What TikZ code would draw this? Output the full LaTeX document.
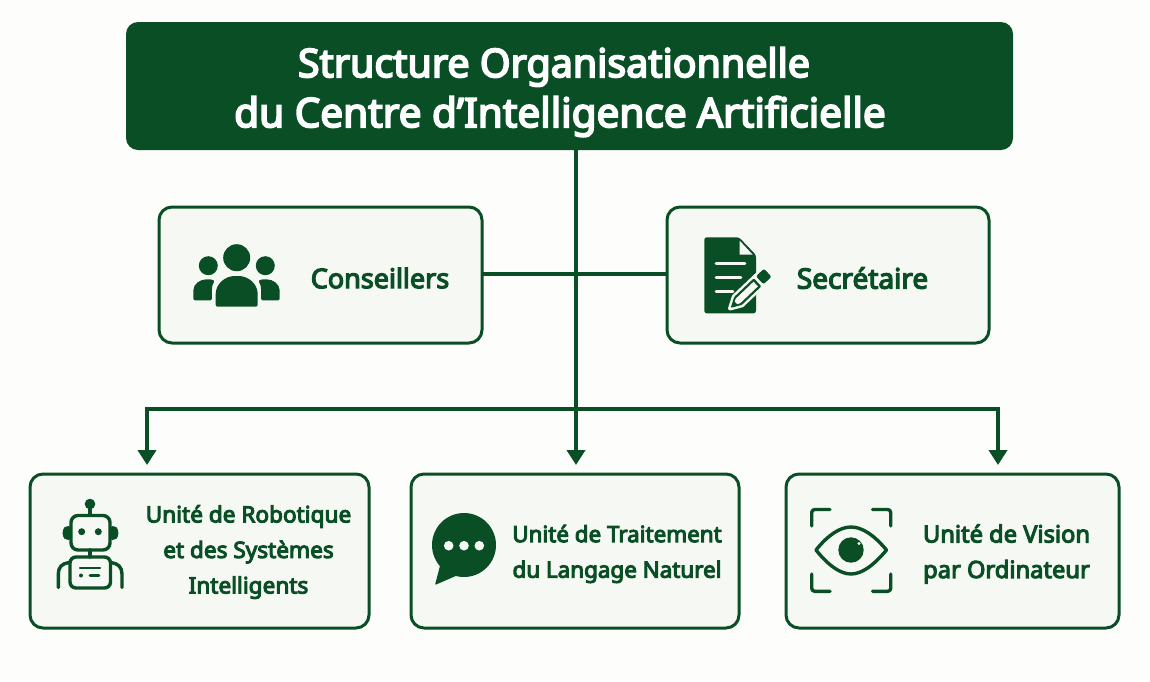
\documentclass[tikz,border=0pt]{standalone}
\usepackage{fontspec}
\setmainfont{Noto Sans}[BoldFont={Noto Sans},BoldFeatures={FakeBold=4.5}]
\usetikzlibrary{arrows.meta}
\definecolor{dkgreen}{HTML}{0A4E25}
\definecolor{pagebg}{HTML}{FDFDFB}
\definecolor{boxbg}{HTML}{F5F8F3}
\tikzset{
  cardbox/.style={draw=dkgreen,line width=3pt,fill=boxbg,rounded corners=13pt,minimum height=#1,inner sep=0pt,outer sep=0pt},
  titlebox/.style={fill=dkgreen,rounded corners=12pt,minimum width=887pt,minimum height=128pt,inner sep=0pt,outer sep=0pt},
  titletext/.style={text=white,font=\fontsize{40}{50}\selectfont\bfseries,align=center,inner sep=0pt},
  cardtext/.style={text=dkgreen,font=\fontsize{#1}{35.5}\selectfont\bfseries,align=center,inner sep=0pt},
  link/.style={draw=dkgreen,line width=4pt},
  linkarrow/.style={link,-{Triangle[length=15pt,width=18pt]},shorten >=9pt},
  iconline/.style={draw=dkgreen,line width=3.4pt,line cap=round,line join=round},
  iconfill/.style={fill=dkgreen,draw=none},
}
\begin{document}
\begin{tikzpicture}[x=1pt,y=-1pt]
\useasboundingbox[fill=pagebg] (0,0) rectangle (1150,681);
% boxes
\node[titlebox] (title) at (569.5,86) {};
\node[cardbox=136pt,minimum width=323pt] (cons) at (320.5,275) {};
\node[cardbox=136pt,minimum width=322pt] (secr) at (828,275) {};
\node[cardbox=154pt,minimum width=339pt] (robo) at (199.5,551) {};
\node[cardbox=154pt,minimum width=328pt] (nlp) at (575,551) {};
\node[cardbox=154pt,minimum width=333pt] (visi) at (952.5,551) {};
% junctions
\coordinate (busm) at (576,409);
\coordinate (busl) at (147,409);
\coordinate (busr) at (998,409);
\coordinate (midr) at (576,274);
% connectors
\draw[link] (title.south -| busm) -- (busm);
\draw[link] (cons.east |- midr) -- (secr.west |- midr);
\draw[link,line cap=rect] (busl) -- (busr);
\draw[linkarrow] (busm) -- (busm |- nlp.north);
\draw[linkarrow] (busl) -- (busl |- robo.north);
\draw[linkarrow] (busr) -- (busr |- visi.north);
% texts
\node[titletext] (ttl) at (560,92) {\hspace*{-12pt}{\fontsize{39.4}{50}\selectfont Structure Organisationnelle}\\{\fontsize{40.5}{50}\selectfont du Centre d’Intelligence Artificielle}};
\node[cardtext=27] (tcons) at (380,278) {Conseillers};
\node[cardtext=28] (tsecr) at (862.5,278) {Secrétaire};
\node[cardtext=22.6] (trobo) at (248.5,552) {Unité de Robotique\\et des Systèmes\\Intelligents};
\node[cardtext=22.4] (tnlp) at (617,554) {Unité de Traitement\\du Langage Naturel};
\node[cardtext=23.7] (tvisi) at (1006.5,554) {Unité de Vision\\par Ordinateur};
% icon people
\fill[dkgreen] (236.7,257.7) circle (13.5);
\fill[dkgreen] (208.3,265.7) circle (9.5);
\fill[dkgreen] (265.3,265.7) circle (9.5);
\fill[dkgreen,rounded corners=1.5pt] (193.3,300.3) -- (193.3,292) .. controls (193.3,284) and (200,279.3) .. (208,279.3) .. controls (211,279.3) and (213,280) .. (215,281) .. controls (211,285) and (212,295) .. (212,300.3) -- cycle;
\fill[dkgreen,rounded corners=1.5pt] (279.7,300.3) -- (279.7,292) .. controls (279.7,284) and (273,279.3) .. (265,279.3) .. controls (262,279.3) and (260,280) .. (258,281) .. controls (262,285) and (261,295) .. (261,300.3) -- cycle;
\fill[dkgreen,rounded corners=2pt] (215.7,306.7) -- (215.7,296) .. controls (215.7,284) and (225,276) .. (236.7,276) .. controls (248.4,276) and (257.7,284) .. (257.7,296) -- (257.7,306.7) -- cycle;
% icon document
\fill[dkgreen,rounded corners=2.5pt] (704.3,237.3) -- (739,237.3) -- (756,255) -- (756,313.3) -- (704.3,313.3) -- cycle;
\fill[boxbg] (739.5,240.5) -- (739.5,254.5) -- (752.5,254.5) -- cycle;
\draw[draw=boxbg,line width=2.6pt,line cap=round] (716,263.7) -- (745,263.7);
\draw[draw=boxbg,line width=2.6pt,line cap=round] (716,277.5) -- (741,277.5);
\draw[draw=boxbg,line width=2.6pt,line cap=round] (716,291.7) -- (733,291.7);
\begin{scope}[shift={(730,308.5)},rotate=43.5]
  \fill[boxbg,draw=boxbg,line width=4pt,line join=round] (0,0) -- (11,-6) -- (52,-6) -- (52,6) -- (11,6) -- cycle;
  \fill[dkgreen,rounded corners=1pt] (1,0) -- (11,-5.5) -- (38,-5.5) -- (38,5.5) -- (11,5.5) -- cycle;
  \fill[boxbg] (4.5,0) -- (11,-3.2) -- (35.5,-3.2) -- (35.5,3.2) -- (11,3.2) -- cycle;
  \fill[dkgreen] (3,0) -- (8,-2.7) -- (8,2.7) -- cycle;
  \fill[dkgreen,rounded corners=2pt] (41,-5.5) -- (52,-5.5) -- (52,5.5) -- (41,5.5) -- cycle;
\end{scope}
% icon robot
\draw[iconline] (90,508) -- (90,515);
\fill[dkgreen] (90,504) circle (5.3);
\draw[iconline,rounded corners=7pt] (71,515.5) rectangle (110,550);
\fill[dkgreen] (81.7,531.7) circle (3.5);
\fill[dkgreen] (98.3,531.7) circle (3.5);
\fill[dkgreen,rounded corners=3pt] (71,526) -- (66,526) -- (62.7,529) -- (62.7,537) -- (66,540) -- (71,540) -- cycle;
\fill[dkgreen,rounded corners=3pt] (110,526) -- (115,526) -- (118.3,529) -- (118.3,537) -- (115,540) -- (110,540) -- cycle;
\draw[iconline] (90,550) -- (90,557);
\draw[iconline,rounded corners=6pt] (70,557) rectangle (110.5,588);
\draw[dkgreen,line width=2.4pt,line cap=round] (80,567.7) -- (100,567.7);
\fill[dkgreen] (81,575.5) circle (2);
\draw[dkgreen,line width=2.6pt,line cap=round] (90,575.5) -- (99,575.5);
\draw[iconline] (58.3,587.5) -- (58.3,574) .. controls (58.3,567) and (62,563.5) .. (69,562.5);
\draw[iconline] (122,587.5) -- (122,574) .. controls (122,567) and (118,563.5) .. (111,562.5);
% icon speech bubble
\fill[dkgreen] (464,545) circle (32);
\fill[dkgreen,rounded corners=1pt] (441,562) -- (435,585) -- (458,575) -- cycle;
\fill[boxbg] (448.7,545.7) circle (4.8);
\fill[boxbg] (464,545.7) circle (4.8);
\fill[boxbg] (479.3,545.7) circle (4.8);
% icon eye
\draw[iconline,rounded corners=3pt] (811.7,526) -- (811.7,509.5) -- (830,509.5);
\draw[iconline,rounded corners=3pt] (872.5,509.5) -- (890.7,509.5) -- (890.7,526);
\draw[iconline,rounded corners=3pt] (811.7,574) -- (811.7,591.3) -- (830,591.3);
\draw[iconline,rounded corners=3pt] (872.5,591.3) -- (890.7,591.3) -- (890.7,574);
\draw[iconline] (816,550) .. controls (828,535) and (840,527) .. (851,527) .. controls (862,527) and (874,535) .. (886.5,550) .. controls (874,565) and (862,574) .. (851,574) .. controls (840,574) and (828,565) .. (816,550) -- cycle;
\fill[dkgreen] (851,550) circle (12.7);
\fill[boxbg] (859,543.5) circle (1.6);
\end{tikzpicture}
\end{document}
